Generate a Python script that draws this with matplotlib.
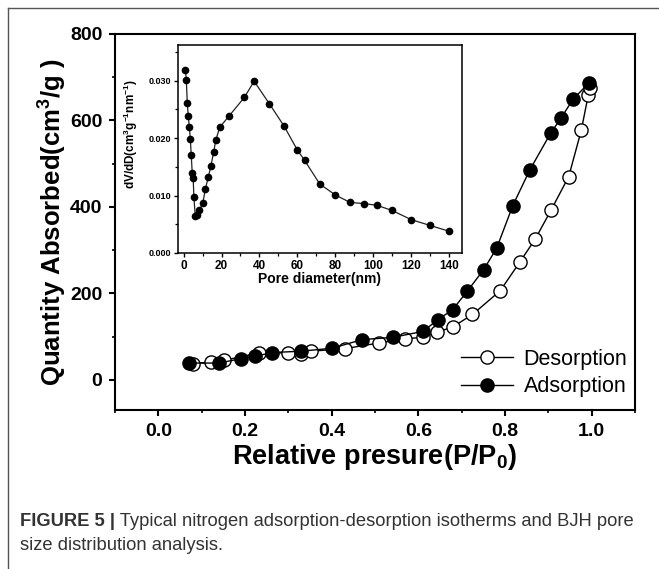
import matplotlib
matplotlib.use("Agg")
import matplotlib.pyplot as plt
from matplotlib.ticker import MultipleLocator, FormatStrFormatter
from matplotlib.lines import Line2D

# ---------------- data ----------------
ads_p = [0.070, 0.140, 0.190, 0.222, 0.263, 0.330, 0.401, 0.471, 0.541, 0.611,
         0.645, 0.679, 0.713, 0.751, 0.781, 0.818, 0.857, 0.905, 0.929, 0.957, 0.993]
ads_q = [38.6, 38.6, 48.7, 54, 63, 66, 73, 93, 98, 112,
         139, 162, 205, 255, 305, 403, 485, 570, 605, 649, 686]

des_p = [0.079, 0.121, 0.152, 0.232, 0.300, 0.330, 0.353, 0.430, 0.509, 0.570,
         0.611, 0.643, 0.679, 0.725, 0.789, 0.834, 0.870, 0.906, 0.947, 0.976,
         0.992, 0.995]
des_q = [37, 41, 45, 62, 62, 60, 66, 72, 85, 95,
         98, 110, 122, 151, 206, 272, 326, 392, 470, 577,
         658, 675]

pore_d = [0.9, 1.4, 1.9, 2.4, 3.0, 3.5, 4.0, 4.5, 5.0, 5.4, 6.1, 6.9, 8.2, 10.1,
          11.5, 13.0, 14.4, 15.8, 17.0, 19.1, 24.1, 32.1, 37.2, 45.2, 53.0, 59.9,
          63.9, 71.9, 80.1, 87.9, 95.2, 102.1, 110.1, 120.2, 130.1, 140.0]
dvdd = [0.0319, 0.0301, 0.0261, 0.0239, 0.0219, 0.0199, 0.0170, 0.0140, 0.0130,
        0.0098, 0.0064, 0.0066, 0.0074, 0.0087, 0.0112, 0.0132, 0.0152, 0.0175,
        0.0197, 0.0219, 0.0239, 0.0271, 0.0299, 0.0260, 0.0221, 0.0180, 0.0161,
        0.0120, 0.0101, 0.0088, 0.0086, 0.0083, 0.0074, 0.0058, 0.0048, 0.0038]

series_labels = ["Desorption", "Adsorption"]
caption_bold = "FIGURE 5 |"
caption_rest = " Typical nitrogen adsorption-desorption isotherms and BJH pore"
caption_line2 = "size distribution analysis."

# ---------------- style ----------------
plt.rcParams['font.family'] = ['Liberation Sans', 'DejaVu Sans']
plt.rcParams['mathtext.fontset'] = 'custom'
plt.rcParams['mathtext.rm'] = 'Liberation Sans:bold'
plt.rcParams['mathtext.bf'] = 'Liberation Sans:bold'
plt.rcParams['mathtext.it'] = 'Liberation Sans:bold'
plt.rcParams['mathtext.default'] = 'bf'

W, H = 659, 569
fig = plt.figure(figsize=(W / 100, H / 100), dpi=100)

def fx(px):
    return px / W

def fy(py):
    return 1 - py / H

# outer frame (top and left edges visible)
fig.add_artist(Line2D([fx(8), 1.0], [fy(8), fy(8)], color='#555555', lw=1.0))
fig.add_artist(Line2D([fx(8), fx(8)], [fy(8), 0.0], color='#555555', lw=1.0))

# ---------------- main axes ----------------
ax = fig.add_axes([fx(115), fy(410), fx(635) - fx(115), fy(34) - fy(410)])
ax.plot(des_p, des_q, '-o', color='black', lw=1.0, ms=9.5, mfc='white',
        mec='black', mew=1.0, label=series_labels[0], zorder=3)
ax.plot(ads_p, ads_q, '-o', color='black', lw=1.0, ms=9.5, mfc='black',
        mec='black', mew=1.0, label=series_labels[1], zorder=4)
ax.set_xlim(-0.1, 1.1)
ax.set_ylim(-70, 800)
ax.xaxis.set_major_locator(MultipleLocator(0.2))
ax.xaxis.set_minor_locator(MultipleLocator(0.1))
ax.yaxis.set_major_locator(MultipleLocator(200))
ax.yaxis.set_minor_locator(MultipleLocator(100))
ax.xaxis.set_major_formatter(FormatStrFormatter('%.1f'))
for s in ax.spines.values():
    s.set_linewidth(1.5)
ax.tick_params(which='major', direction='out', length=4, width=1.5,
               labelsize=14, pad=5)
ax.tick_params(which='minor', direction='out', length=2.5, width=1.2)
for lab in ax.get_xticklabels() + ax.get_yticklabels():
    lab.set_fontweight('bold')
ax.set_xlabel(r"Relative presure(P/P$_0$)", fontsize=19.5, fontweight='bold', labelpad=2)
ax.set_ylabel(r"Quantity Absorbed(cm$^3$/g )", fontsize=18.5, fontweight='bold', labelpad=2)
ax.yaxis.set_label_coords(-0.088, 0.5)

leg = ax.legend(loc='lower right', bbox_to_anchor=(1.01, 0.0), frameon=False,
                fontsize=15.5, handlelength=2.4, handletextpad=0.5,
                labelspacing=0.3, borderaxespad=0.2)

# ---------------- inset ----------------
ins = fig.add_axes([fx(178), fy(253), fx(462) - fx(178), fy(45) - fy(253)])
ins.plot(pore_d, dvdd, '-o', color='#222222', lw=0.9, ms=4.5, mfc='black',
         mec='black', zorder=3)
ins.set_xlim(-3, 147)
ins.set_ylim(0, 0.0362)
ins.xaxis.set_major_locator(MultipleLocator(20))
ins.xaxis.set_minor_locator(MultipleLocator(10))
ins.yaxis.set_major_locator(MultipleLocator(0.01))
ins.yaxis.set_minor_locator(MultipleLocator(0.005))
ins.yaxis.set_major_formatter(FormatStrFormatter('%.3f'))
for s in ins.spines.values():
    s.set_linewidth(1.1)
ins.tick_params(which='major', direction='out', length=3, width=1.0, pad=2)
ins.tick_params(which='minor', direction='out', length=2, width=0.9)
ins.tick_params(axis='x', labelsize=8.5)
ins.tick_params(axis='y', labelsize=6.5)
for lab in ins.get_xticklabels() + ins.get_yticklabels():
    lab.set_fontweight('bold')
ins.set_xlabel("Pore diameter(nm)", fontsize=10, fontweight='bold', labelpad=0)
ins.set_ylabel(r"dV/dD(cm$^3$g$^{-1}$nm$^{-1}$)", fontsize=8.5, fontweight='bold')
ins.yaxis.set_label_coords(-0.135, 0.57)

# ---------------- caption ----------------
cap_color = '#333333'
cap_fs = 13.2
t1 = fig.text(fx(20), fy(521), caption_bold, fontsize=cap_fs, fontweight='bold',
              color=cap_color, va='center', ha='left')
fig.canvas.draw()
r = fig.canvas.get_renderer()
bb = t1.get_window_extent(r)
t2 = fig.text(bb.x1 / W, fy(521), caption_rest, fontsize=cap_fs, color=cap_color,
              va='center', ha='left')
t3 = fig.text(fx(20), fy(546), caption_line2, fontsize=cap_fs, color=cap_color,
              va='center', ha='left')

fig.savefig("out.png", dpi=100)
